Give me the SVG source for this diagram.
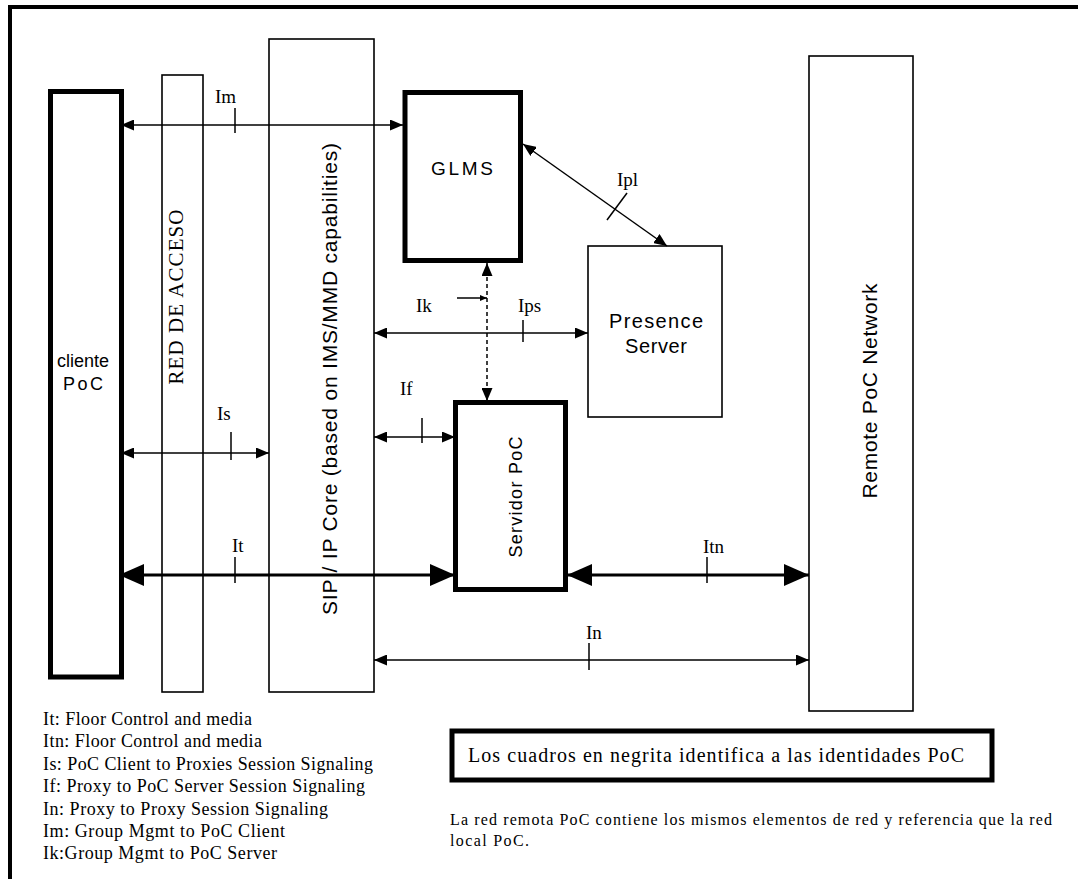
<svg xmlns="http://www.w3.org/2000/svg" width="1078" height="879" viewBox="0 0 1078 879">
<style>
.thin{fill:#fff;stroke:#000;stroke-width:1.6}
.bold{fill:#fff;stroke:#000;stroke-width:5}
.ln{stroke:#000;stroke-width:1.5;fill:none}
.tk{stroke:#000;stroke-width:3;fill:none}
.sans{font-family:"Liberation Sans",Arial,sans-serif;fill:#000}
.serif{font-family:"Liberation Serif","Times New Roman",serif;fill:#000}
.lbl{font-family:"Liberation Serif","Times New Roman",serif;font-size:19px;fill:#000}
</style>
<defs>
<marker id="a" markerUnits="userSpaceOnUse" markerWidth="13" markerHeight="11" refX="13" refY="5.5" orient="auto-start-reverse"><path d="M0,0 L13,5.5 L0,11 z" fill="#000"/></marker>
<marker id="A" markerUnits="userSpaceOnUse" markerWidth="25" markerHeight="22" refX="25" refY="11" orient="auto-start-reverse"><path d="M0,0 L25,11 L0,22 z" fill="#000"/></marker>
<marker id="s" markerUnits="userSpaceOnUse" markerWidth="7" markerHeight="6" refX="7" refY="3" orient="auto"><path d="M0,0 L7,3 L0,6 z" fill="#000"/></marker>
</defs>
<rect x="0" y="0" width="1078" height="879" fill="#fff"/>
<g id="frame"><path d="M10,879 V7 H1078" fill="none" stroke="#000" stroke-width="4"/></g>

<g id="cliente"><rect class="bold" x="50.5" y="91.5" width="71" height="585.5"/>
<text class="sans" font-size="18" x="83" y="367" text-anchor="middle">cliente</text>
<text class="sans" font-size="18" x="83" y="390" text-anchor="middle" textLength="40">PoC</text></g>

<g id="red-acceso"><rect class="thin" x="162" y="75" width="41" height="617"/>
<text class="serif" font-size="21" transform="translate(183,297) rotate(-90)" text-anchor="middle" textLength="175">RED DE ACCESO</text></g>

<g id="sip-core"><rect class="thin" x="269" y="39" width="105" height="653"/>
<text class="sans" font-size="21" transform="translate(337,379) rotate(-90)" text-anchor="middle" textLength="472">SIP / IP Core (based on IMS/MMD capabilities)</text></g>

<g id="glms"><rect class="bold" x="405" y="92.5" width="115.5" height="168"/>
<text class="sans" font-size="19" x="462" y="175" text-anchor="middle" textLength="62">GLMS</text></g>

<g id="presence"><rect class="thin" x="588" y="246" width="134" height="171"/>
<text class="sans" font-size="20" x="656" y="328" text-anchor="middle" textLength="94">Presence</text>
<text class="sans" font-size="20" x="656" y="353" text-anchor="middle" textLength="62">Server</text></g>

<g id="servidor"><rect class="bold" x="455.5" y="402.5" width="110" height="187"/>
<text class="sans" font-size="18" transform="translate(522,497) rotate(-90)" text-anchor="middle" textLength="121">Servidor PoC</text></g>

<g id="remote"><rect class="thin" x="809" y="56" width="104" height="655"/>
<text class="sans" font-size="21" transform="translate(877,391) rotate(-90)" text-anchor="middle" textLength="215">Remote PoC Network</text></g>

<g id="connectors">
<line class="ln" x1="121" y1="125" x2="403" y2="125" marker-start="url(#a)" marker-end="url(#a)"/>
<line class="ln" x1="235" y1="108" x2="235" y2="133"/>
<text class="lbl" x="215" y="103">Im</text>

<line class="ln" x1="121" y1="453" x2="269" y2="453" marker-start="url(#a)" marker-end="url(#a)"/>
<line class="ln" x1="231" y1="432" x2="231" y2="460"/>
<text class="lbl" x="217" y="420">Is</text>

<line class="tk" x1="119" y1="575" x2="455" y2="575" marker-start="url(#A)" marker-end="url(#A)"/>
<line class="ln" x1="235" y1="557" x2="235" y2="583"/>
<text class="lbl" x="232" y="552">It</text>

<line class="ln" x1="374" y1="437" x2="455" y2="437" marker-start="url(#a)" marker-end="url(#a)"/>
<line class="ln" x1="422" y1="418" x2="422" y2="443"/>
<text class="lbl" x="400" y="395">If</text>

<line class="ln" x1="374" y1="333" x2="588" y2="333" marker-start="url(#a)" marker-end="url(#a)"/>
<line class="ln" x1="523" y1="320" x2="523" y2="342"/>
<text class="lbl" x="518" y="312">Ips</text>

<line class="ln" x1="487" y1="263" x2="487" y2="401" stroke-dasharray="4,3" marker-start="url(#a)" marker-end="url(#a)"/>
<line class="ln" x1="457" y1="298" x2="487" y2="298" marker-end="url(#s)"/>
<text class="lbl" x="416" y="312">Ik</text>

<line class="ln" x1="523" y1="144" x2="667" y2="246" marker-start="url(#a)" marker-end="url(#a)"/>
<line class="ln" x1="607" y1="220" x2="627" y2="193"/>
<text class="lbl" x="617" y="186">Ipl</text>

<line class="tk" x1="567" y1="575" x2="809" y2="575" marker-start="url(#A)" marker-end="url(#A)"/>
<line class="ln" x1="707" y1="557" x2="707" y2="583"/>
<text class="lbl" x="703" y="553">Itn</text>

<line class="ln" x1="374" y1="660" x2="809" y2="660" marker-start="url(#a)" marker-end="url(#a)"/>
<line class="ln" x1="589" y1="643" x2="589" y2="670"/>
<text class="lbl" x="586" y="639">In</text>
</g>

<g id="legend">
<text class="serif" font-size="18" x="43" y="725" textLength="209">It: Floor Control and media</text>
<text class="serif" font-size="18" x="43" y="747" textLength="219">Itn: Floor Control and media</text>
<text class="serif" font-size="18" x="43" y="770" textLength="330">Is: PoC Client to Proxies Session Signaling</text>
<text class="serif" font-size="18" x="43" y="792" textLength="322">If: Proxy to PoC Server Session Signaling</text>
<text class="serif" font-size="18" x="43" y="815" textLength="285">In: Proxy to Proxy Session Signaling</text>
<text class="serif" font-size="18" x="43" y="837" textLength="242">Im: Group Mgmt to PoC Client</text>
<text class="serif" font-size="18" x="43" y="859" textLength="234">Ik:Group Mgmt to PoC Server</text>
</g>

<g id="note-box"><rect class="bold" x="452" y="731" width="540" height="49"/>
<text class="serif" font-size="20" x="468" y="762" textLength="496">Los cuadros en  negrita identifica a las identidades PoC</text></g>

<g id="note">
<text class="serif" font-size="16" x="450" y="825" textLength="602">La red remota PoC contiene los mismos elementos de red y  referencia que la red</text>
<text class="serif" font-size="16" x="450" y="846" textLength="79">local PoC.</text>
</g>
</svg>
